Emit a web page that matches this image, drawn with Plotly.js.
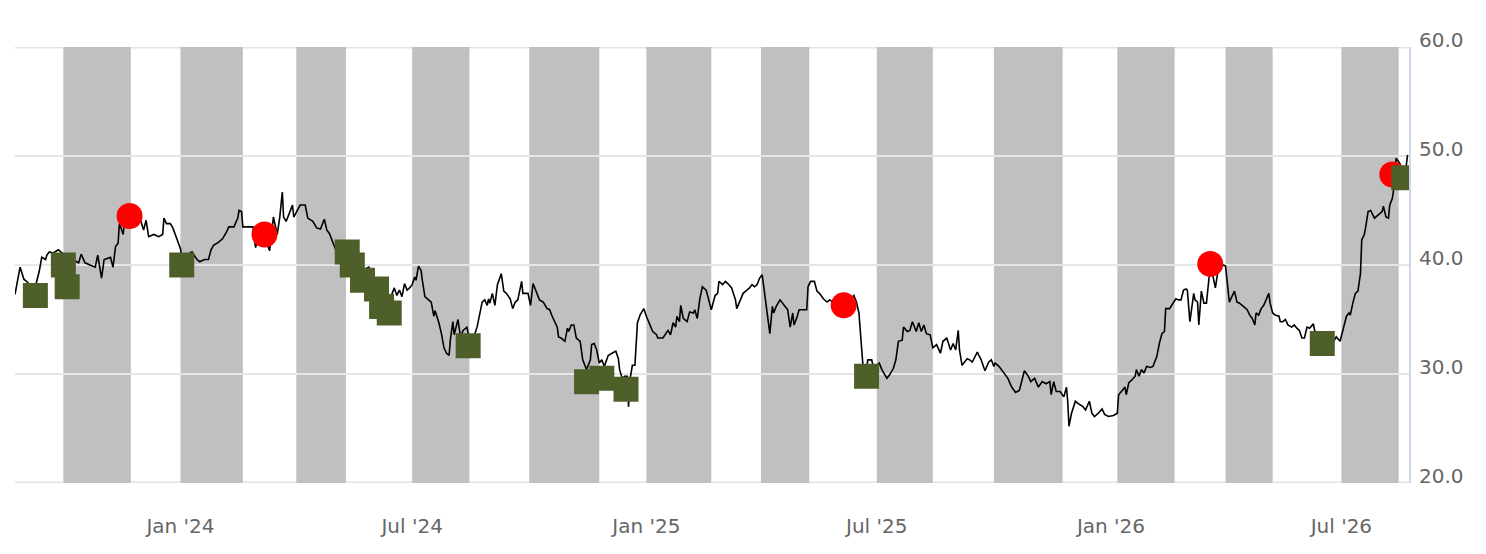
<!DOCTYPE html>
<html>
<head>
<meta charset="utf-8">
<script src="https://cdn.plot.ly/plotly-3.0.1.min.js"></script>
<style>
  html, body { margin: 0; padding: 0; background: #ffffff; }
  #chart { width: 1486px; height: 554px; }
</style>
</head>
<body>
<div id="chart"></div>
<script>
// ---- DATA ----
const startDate = '2023-08-24';            // day 0 of the series
const dayIndex = [
  0,4,7,10,14,16,19,21,24,25,27,30,34,40,45,50,52,55,59,63,65,68,70,73,75,77,79,81,82,85,86,90,93,98,101,103,105,109,113,116,117,119,122,124,127,130,131,134,139,143,145,149,152,154,156,160,163,166,168,172,175,176,178,179,187,189,192,196,200,203,206,208,210,211,213,216,218,219,221,224,228,230,234,237,240,243,245,247,251,255,259,263,268,273,276,278,282,287,293,298,300,302,304,306,308,310,312,314,315,317,319,320,322,324,327,329,330,333,335,337,339,341,342,344,345,348,350,352,355,357,361,363,365,367,369,371,372,373,375,377,379,382,384,386,389,391,393,395,398,399,403,405,407,409,412,415,418,420,422,426,427,429,432,434,435,437,439,441,444,446,449,452,453,455,457,459,461,463,466,469,472,474,475,477,479,481,482,483,485,487,488,489,491,494,496,499,501,504,505,509,511,513,515,517,519,520,522,523,525,528,530,533,534,536,538,540,543,545,547,550,552,553,556,558,560,563,566,567,570,572,575,577,579,581,583,585,587,589,591,593,595,596,598,601,605,607,609,611,612,614,616,619,622,623,625,628,630,632,635,638,640,644,648,651,656,659,661,663,665,666,668,670,673,674,676,679,681,683,685,687,690,692,694,697,698,701,703,705,708,710,712,714,716,719,721,724,727,729,732,735,737,739,741,742,744,748,750,752,756,759,762,765,767,769,770,773,776,780,783,786,789,791,793,796,798,801,804,807,810,813,814,816,818,821,824,826,827,828,830,833,835,839,841,844,846,848,851,854,856,859,863,866,867,870,872,873,875,877,880,881,883,885,887,889,892,894,897,899,901,903,904,907,910,912,914,916,918,920,921,923,926,927,929,930,932,934,936,938,940,943,945,948,949,951,952,954,956,957,958,960,962,965,968,970,972,974,975,977,979,981,983,985,986,988,990,993,994,996,998,1000,1003,1005,1007,1009,1011,1013,1015,1017,1020,1021,1025,1030,1034,1038,1041,1044,1046,1048,1049,1051,1053,1055,1057,1058,1060,1061,1063,1065,1067,1068,1071,1074,1075,1077,1079,1080,1082,1083,1085,1087,1088,1090,1092,1094
];
const price = [
  37.3,39.8,38.7,38.4,37.6,38.0,39.4,40.7,40.5,40.9,41.2,41.1,41.4,40.8,40.5,40.2,41.0,40.2,40.0,39.8,40.9,38.8,40.5,40.6,40.7,39.8,41.7,42.0,43.8,42.8,44.1,44.6,44.1,44.4,43.2,44.1,42.6,42.8,42.6,42.8,44.3,43.8,43.8,43.4,42.4,41.5,40.6,40.8,41.2,40.5,40.3,40.5,40.5,41.4,41.8,42.1,42.4,43.0,43.5,43.5,44.3,45.0,44.9,43.5,43.5,41.6,43.0,42.6,41.3,44.4,42.8,44.4,46.7,44.4,44.0,44.9,45.5,44.4,44.9,45.5,45.5,44.3,44.0,43.4,43.3,44.2,43.2,42.9,41.7,40.5,40.2,39.4,39.0,38.6,39.7,39.8,37.8,37.2,36.4,37.9,37.2,37.7,37.1,38.3,37.7,37.9,38.2,38.9,38.6,39.9,39.5,38.6,37.1,36.9,36.6,35.3,35.8,34.7,33.7,32.4,31.9,31.7,33.1,34.8,33.6,35.0,33.4,34.0,34.3,33.2,33.6,34.3,35.6,36.6,36.8,36.3,36.9,36.5,37.4,36.3,38.2,39.2,37.6,37.4,36.9,36.0,36.6,36.8,38.5,37.4,37.4,36.3,38.3,37.7,36.8,36.6,36.0,35.9,35.3,34.3,33.4,33.3,33.0,34.2,33.9,34.5,34.5,33.3,33.0,31.3,30.4,31.3,32.7,32.8,32.2,31.0,31.3,30.7,31.7,31.9,32.1,31.4,30.4,29.6,29.8,29.8,27.0,29.4,30.8,30.8,32.5,34.7,35.4,36.0,35.3,34.5,33.9,33.6,33.3,33.3,33.7,34.0,33.6,34.7,34.3,35.3,34.8,36.3,35.1,34.8,35.7,35.6,35.9,35.1,36.9,38.0,37.7,36.8,35.9,37.2,37.4,38.5,38.2,38.5,38.3,37.9,36.8,36.0,36.8,37.4,37.7,37.9,38.2,38.0,38.2,38.8,39.1,37.4,35.3,33.7,36.2,35.6,36.2,36.8,36.2,35.9,34.3,35.6,34.5,35.1,35.9,35.9,35.9,38.0,38.5,38.5,37.6,37.4,36.9,36.6,36.8,36.5,36.2,36.4,36.8,37.2,36.6,35.6,32.8,31.0,29.9,31.3,31.3,30.8,30.7,31.0,30.4,30.0,29.6,29.9,30.5,31.3,33.0,33.1,34.3,33.9,34.0,34.8,33.9,34.7,33.9,34.5,33.7,33.6,32.4,32.7,31.9,33.0,33.3,32.2,32.8,32.2,34.0,32.2,30.8,31.4,31.3,31.1,32.0,31.3,30.3,31.1,31.3,30.7,31.0,30.7,30.2,29.6,28.8,28.3,28.5,29.3,30.3,29.8,29.3,29.6,28.8,29.3,29.1,29.3,28.1,29.3,28.4,28.4,27.9,28.8,27.5,25.2,26.4,27.5,27.3,27.0,26.7,27.5,26.4,26.1,26.4,26.8,26.3,26.1,26.2,26.4,28.1,28.5,28.8,28.1,29.2,29.4,29.8,30.4,29.8,30.4,30.1,30.7,30.6,30.7,31.6,32.8,33.7,33.9,36.0,36.0,36.5,36.9,36.8,36.8,37.7,37.8,37.7,34.8,37.4,36.8,36.6,34.5,37.6,36.5,36.5,38.8,39.6,37.9,39.4,39.9,40.0,39.9,38.9,36.6,37.1,37.4,37.6,36.6,36.5,36.2,35.9,35.4,35.1,34.5,35.6,35.4,36.0,36.3,36.8,37.4,36.5,35.6,35.4,35.3,34.8,34.8,35.0,34.5,34.3,34.5,34.2,34.0,33.3,33.3,34.3,34.2,34.6,34.0,33.2,32.8,32.6,33.4,33.0,34.3,35.3,35.6,35.4,36.5,37.4,37.6,39.2,42.3,42.8,43.4,44.9,45.0,44.6,44.3,44.6,44.9,45.4,44.4,44.3,45.5,46.1,46.9,49.8,49.5,49.3,48.5,48.2,50.1
];

// red circle signals
const sellDay = [90, 196, 651, 939, 1082];
const sellValue = [44.5, 42.8, 36.3, 40.1, 48.3];

// green square signals
const buyDay = [16, 38, 41, 131, 261, 265, 273, 284, 288, 294, 356, 449, 461, 480, 669, 1027, 1091];
const buyValue = [37.2, 40.0, 38.0, 40.0, 41.2, 40.0, 38.6, 37.8, 36.2, 35.6, 32.6, 29.3, 29.6, 28.6, 29.8, 32.8, 48.0];

// shaded periods
const bandStart = ['2023-10-01','2024-01-01','2024-04-01','2024-07-01','2024-10-01','2025-01-01','2025-04-01','2025-07-01','2025-10-01','2026-01-06','2026-04-01','2026-07-01'];
const bandEnd   = ['2023-11-23','2024-02-19','2024-05-10','2024-08-15','2024-11-25','2025-02-21','2025-05-09','2025-08-14','2025-11-24','2026-02-20','2026-05-08','2026-08-15'];

const yTicks = [20, 30, 40, 50, 60];

// ---- helpers ----
const t0 = Date.parse(startDate + 'T00:00:00Z');
function toDate(d) {
  return new Date(t0 + d * 86400000).toISOString().slice(0, 10);
}

const lineTrace = {
  x: dayIndex.map(toDate), y: price,
  type: 'scatter', mode: 'lines',
  line: { color: '#000000', width: 1.6 },
  hoverinfo: 'skip'
};
const sellTrace = {
  x: sellDay.map(toDate), y: sellValue,
  type: 'scatter', mode: 'markers',
  marker: { symbol: 'circle', size: 26, color: '#ff0000', line: { width: 0 } },
  hoverinfo: 'skip'
};
const buyTrace = {
  x: buyDay.map(toDate), y: buyValue,
  type: 'scatter', mode: 'markers',
  marker: { symbol: 'square', size: 23, color: '#4e5f2a', line: { width: 2, color: '#4e5f2a' } },
  hoverinfo: 'skip'
};

const shapes = bandStart.map((s, i) => ({
  type: 'rect', xref: 'x', yref: 'y',
  x0: s, x1: bandEnd[i], y0: yTicks[0], y1: yTicks[yTicks.length - 1],
  fillcolor: '#c0c0c0', line: { width: 0 }, layer: 'below'
}));
// edge grid lines (Plotly skips grid lines that sit on the plot edges);
// drawn twice as wide because half of the stroke is clipped by the plot area
[yTicks[0], yTicks[yTicks.length - 1]].forEach(v => shapes.push({
  type: 'line', xref: 'paper', yref: 'y', x0: 0, x1: 1, y0: v, y1: v,
  line: { color: '#e3e3e3', width: 3 }, layer: 'below'
}));

// y tick labels sit just above their grid lines, as in the reference
const yLabels = yTicks.map(v => ({
  xref: 'paper', x: 1, xanchor: 'left', xshift: 8,
  yref: 'y', y: v, yanchor: 'middle', yshift: 7,
  text: v.toFixed(1), showarrow: false,
  font: { family: 'DejaVu Sans, Verdana, sans-serif', size: 20, color: '#666666' }
}));

const layout = {
  width: 1486, height: 554,
  margin: { l: 15, r: 77, t: 47, b: 71, pad: 0 },
  paper_bgcolor: '#ffffff', plot_bgcolor: '#ffffff',
  showlegend: false, hovermode: false,
  font: { family: 'DejaVu Sans, Verdana, sans-serif', size: 20, color: '#666666' },
  xaxis: {
    type: 'date',
    range: ['2023-08-24', '2026-08-23 03:00'],
    tickformat: "%b '%y", dtick: 'M6', tick0: '2024-01-01',
    showgrid: false, zeroline: false, showline: false, ticks: '',
    ticklabelstandoff: 29,
    tickfont: { size: 20, color: '#666666' }
  },
  yaxis: {
    side: 'right',
    range: [20, 60],
    tickvals: yTicks, showticklabels: false,
    showgrid: true, gridcolor: '#e6e6e6', gridwidth: 1.4,
    zeroline: false,
    showline: true, linecolor: '#ccd6eb', linewidth: 1.5,
    ticks: ''
  },
  shapes: shapes,
  annotations: yLabels
};

Plotly.newPlot('chart', [lineTrace, sellTrace, buyTrace], layout, { staticPlot: true, displayModeBar: false });
</script>
</body>
</html>
